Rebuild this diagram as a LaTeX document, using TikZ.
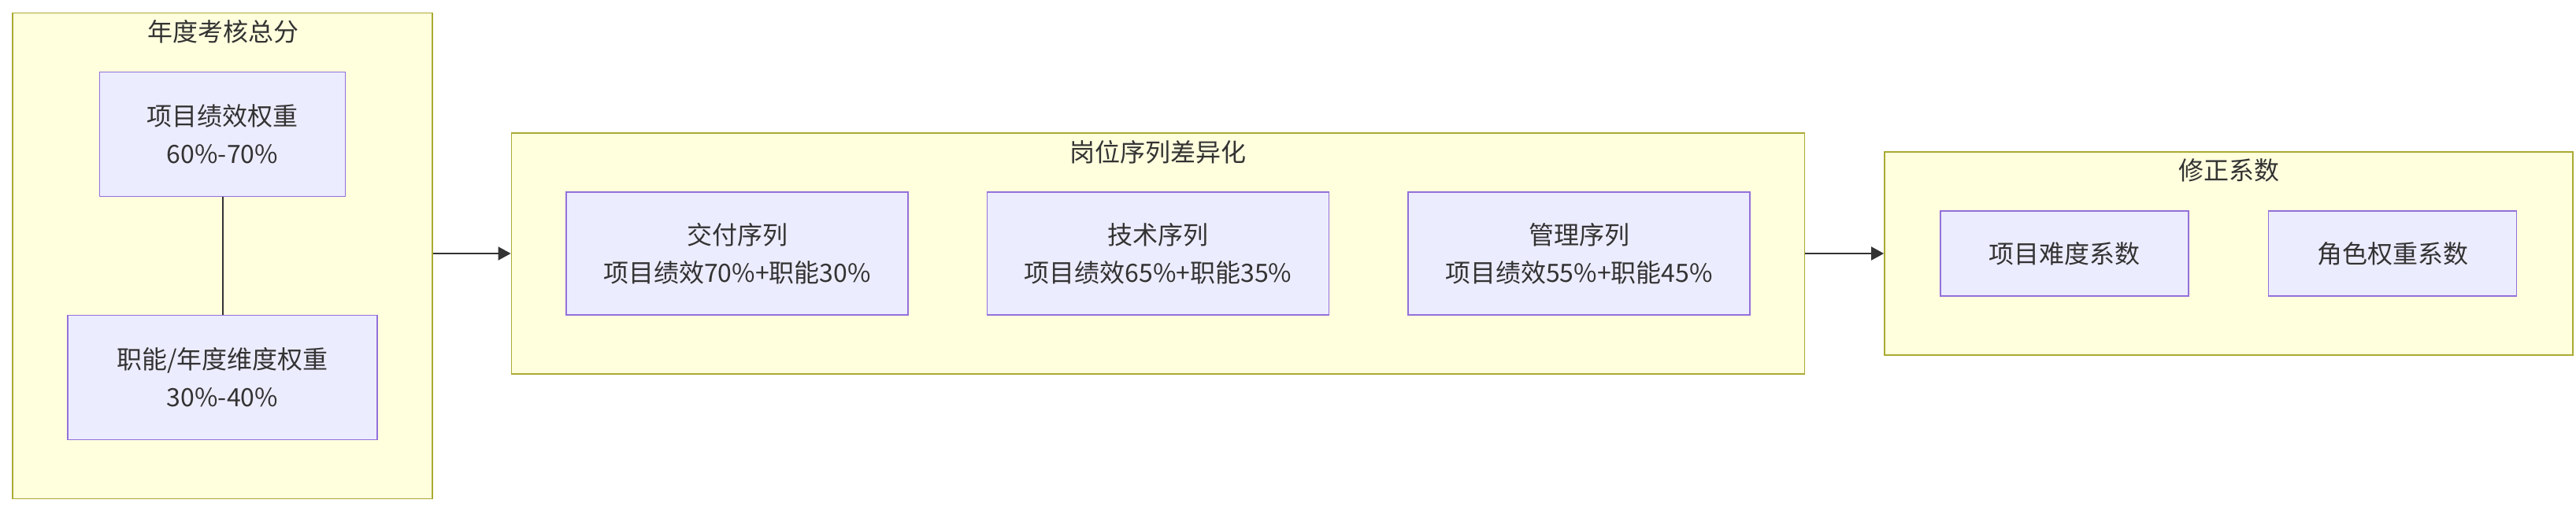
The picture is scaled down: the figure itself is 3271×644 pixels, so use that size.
\documentclass[tikz,border=0pt]{standalone}
\usepackage{fontspec}
\setmainfont{Noto Sans CJK SC}
\usepackage{tikz}
\usetikzlibrary{arrows.meta}
\definecolor{clusterfill}{HTML}{FFFFDE}
\definecolor{clusterline}{HTML}{AAAA33}
\definecolor{boxfill}{HTML}{ECECFF}
\definecolor{boxline}{HTML}{9370DB}
\definecolor{inkgray}{HTML}{333333}

\begin{document}
\begin{tikzpicture}[x=1pt,y=-1pt,
		cluster/.style={draw=clusterline, fill=clusterfill, line width=1.8pt, inner sep=0pt},
		title/.style={text=inkgray, font=\fontsize{32pt}{48pt}\selectfont, inner sep=0pt},
		item/.style={draw=boxline, fill=boxfill, line width=1.8pt, text=inkgray, align=center,
			font=\fontsize{32pt}{48pt}\selectfont, inner sep=0pt},
		link/.style={draw=inkgray, line width=2pt},
		flow/.style={link, -{Triangle[length=16pt,width=17pt]}}]
	\useasboundingbox (0,0) rectangle (3271,644);
	% clusters
	\node[cluster, minimum width=533pt, minimum height=617pt] (total) at (282.5,325) {};
	\node[cluster, minimum width=1642pt, minimum height=306pt] (series) at (1470.5,322) {};
	\node[cluster, minimum width=874pt, minimum height=258pt] (factor) at (2830,322) {};
	\node[title] (totaltitle) at (283,40) {年度考核总分};
	\node[title] (seriestitle) at (1470.5,193) {岗位序列差异化};
	\node[title] (factortitle) at (2830,216) {修正系数};
	% annual total
	\node[item, minimum width=312pt, minimum height=158pt] (projw) at (282.5,170.6) {项目绩效权重\\60\%-70\%};
	\node[item, minimum width=393pt, minimum height=158pt] (dutyw) at (282.5,479.5) {职能/年度维度权重\\30\%-40\%};
	% job series
	\node[item, minimum width=434pt, minimum height=156pt] (deliver) at (936,322) {交付序列\\项目绩效70\%+职能30\%};
	\node[item, minimum width=434pt, minimum height=156pt] (tech) at (1470.5,322) {技术序列\\项目绩效65\%+职能35\%};
	\node[item, minimum width=434pt, minimum height=156pt] (manage) at (2005,322) {管理序列\\项目绩效55\%+职能45\%};
	% correction factors
	\node[item, minimum width=315pt, minimum height=108pt] (difficulty) at (2621.7,322) {项目难度系数};
	\node[item, minimum width=315pt, minimum height=108pt] (role) at (3038,322) {角色权重系数};
	\draw[link] (projw) -- (dutyw);
	\draw[flow] (total.east |- series.west) -- (series.west);
	\draw[flow] (series.east) -- (factor.west);
\end{tikzpicture}
\end{document}
